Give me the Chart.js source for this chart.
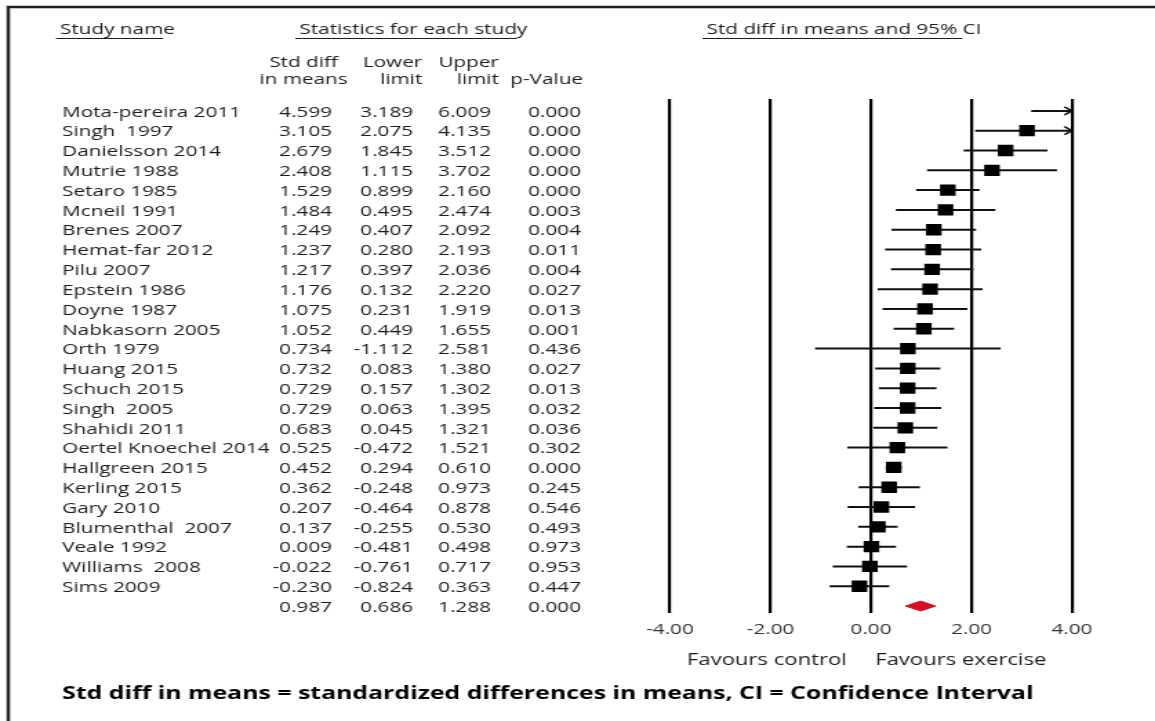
<!DOCTYPE html>
<html>
<head>
<meta charset="utf-8">
<script src="https://cdn.jsdelivr.net/npm/chart.js@4.4.1/dist/chart.umd.min.js"></script>
<style>
  html, body { margin: 0; padding: 0; background: #fff; overflow: hidden; }
  /* the reference is stretched sideways, so the whole chart is stretched the same way */
  #wrap { position: absolute; left: 0; top: 0; width: 837px; height: 721px;
          transform: scaleX(1.38); transform-origin: 0 0; }
</style>
</head>
<body>
<div id="wrap"><canvas id="forest"></canvas></div>
<script>
"use strict";

var studies = ['Mota-pereira 2011', 'Singh  1997', 'Danielsson 2014', 'Mutrie 1988', 'Setaro 1985',
  'Mcneil 1991', 'Brenes 2007', 'Hemat-far 2012', 'Pilu 2007', 'Epstein 1986', 'Doyne 1987',
  'Nabkasorn 2005', 'Orth 1979', 'Huang 2015', 'Schuch 2015', 'Singh  2005', 'Shahidi 2011',
  'Oertel Knoechel 2014', 'Hallgreen 2015', 'Kerling 2015', 'Gary 2010', 'Blumenthal  2007',
  'Veale 1992', 'Williams  2008', 'Sims 2009'];
var stdDiff = [4.599, 3.105, 2.679, 2.408, 1.529, 1.484, 1.249, 1.237, 1.217, 1.176, 1.075, 1.052,
  0.734, 0.732, 0.729, 0.729, 0.683, 0.525, 0.452, 0.362, 0.207, 0.137, 0.009, -0.022, -0.230];
var lowerLimit = [3.189, 2.075, 1.845, 1.115, 0.899, 0.495, 0.407, 0.280, 0.397, 0.132, 0.231, 0.449,
  -1.112, 0.083, 0.157, 0.063, 0.045, -0.472, 0.294, -0.248, -0.464, -0.255, -0.481, -0.761, -0.824];
var upperLimit = [6.009, 4.135, 3.512, 3.702, 2.160, 2.474, 2.092, 2.193, 2.036, 2.220, 1.919, 1.655,
  2.581, 1.380, 1.302, 1.395, 1.321, 1.521, 0.610, 0.973, 0.878, 0.530, 0.498, 0.717, 0.363];
var pValue = ['0.000', '0.000', '0.000', '0.000', '0.000', '0.003', '0.004', '0.011', '0.004', '0.027',
  '0.013', '0.001', '0.436', '0.027', '0.013', '0.032', '0.036', '0.302', '0.000', '0.245', '0.546',
  '0.493', '0.973', '0.953', '0.447'];
var summary = { est: 0.987, lower: 0.686, upper: 1.288, p: '0.000' };
var xTicks = [-4, -2, 0, 2, 4];

var TXT = '#1c1c1c';
var FONT = '15px "Open Sans"';
var SUM_ROW = studies.length;

// CI segments, broken by null points
var ciData = [];
studies.forEach(function(s, i) {
  ciData.push({ x: lowerLimit[i], y: i }, { x: upperLimit[i], y: i }, { x: upperLimit[i], y: null });
});
var squareData = stdDiff.map(function(v, i) { return { x: v, y: i }; });
var diamondData = [
  { x: summary.lower, y: SUM_ROW }, { x: summary.est, y: SUM_ROW - 0.25 },
  { x: summary.upper, y: SUM_ROW }, { x: summary.est, y: SUM_ROW + 0.25 },
  { x: summary.lower, y: SUM_ROW }
];

function text(ctx, str, x, y, align, font) {
  ctx.font = font || FONT;
  ctx.textAlign = align || 'left';
  ctx.fillText(str, x, y);
}
function underline(ctx, str, part, x, y) {
  text(ctx, str, x, y);
  var w = ctx.measureText(part).width;
  ctx.beginPath();
  ctx.moveTo(x - 3, y + 8.5);
  ctx.lineTo(x + w, y + 8.5);
  ctx.stroke();
}

var forestText = {
  id: 'forestText',
  beforeDraw: function(chart) {
    var ctx = chart.ctx;
    ctx.save();
    ctx.strokeStyle = '#222';
    ctx.lineWidth = 2.5;
    ctx.beginPath();
    ctx.moveTo(chart.width, 7);
    ctx.lineTo(6, 7);
    ctx.lineTo(6, chart.height);
    ctx.stroke();
    ctx.restore();
  },
  afterDraw: function(chart) {
    var ctx = chart.ctx, y = chart.scales.y, x = chart.scales.x;
    ctx.save();
    ctx.fillStyle = TXT;
    ctx.strokeStyle = TXT;
    ctx.lineWidth = 1.2;
    ctx.textBaseline = 'middle';

    underline(ctx, 'Study name', 'Study nam', 43.5, 30);
    underline(ctx, 'Statistics for each study', 'Statistics for each stud', 217, 30);
    underline(ctx, 'Std diff in means and 95% CI', 'Std diff in means and 95% ', 512, 30);

    text(ctx, 'Std diff', 220, 63, 'center');
    text(ctx, 'in means', 220, 80, 'center');
    text(ctx, 'Lower', 306, 63, 'right');
    text(ctx, 'limit', 306, 80, 'right');
    text(ctx, 'Upper', 361.5, 63, 'right');
    text(ctx, 'limit', 361.5, 80, 'right');
    text(ctx, 'p-Value', 422.5, 80, 'right');

    studies.forEach(function(s, i) {
      var py = y.getPixelForValue(i) + 1.5;
      text(ctx, s, 45, py);
      text(ctx, stdDiff[i].toFixed(3), 240.6, py, 'right');
      text(ctx, lowerLimit[i].toFixed(3), 299.3, py, 'right');
      text(ctx, upperLimit[i].toFixed(3), 355.8, py, 'right');
      text(ctx, pValue[i], 421, py, 'right');
    });
    var sy = y.getPixelForValue(SUM_ROW) + 1.5;
    text(ctx, summary.est.toFixed(3), 240.6, sy, 'right');
    text(ctx, summary.lower.toFixed(3), 299.3, sy, 'right');
    text(ctx, summary.upper.toFixed(3), 355.8, sy, 'right');
    text(ctx, summary.p, 421, sy, 'right');

    // arrows where the CI runs past the axis
    var xmax = x.max, px = x.getPixelForValue(xmax);
    ctx.strokeStyle = '#111';
    ctx.lineWidth = 1.6;
    studies.forEach(function(s, i) {
      if (upperLimit[i] <= xmax) return;
      var py = y.getPixelForValue(i);
      ctx.beginPath();
      ctx.moveTo(px - 5.5, py - 4);
      ctx.lineTo(px, py);
      ctx.lineTo(px - 5.5, py + 4);
      ctx.stroke();
    });

    var zero = x.getPixelForValue(0);
    text(ctx, 'Favours control', zero - 17.5, 660, 'right', '16px "Open Sans"');
    text(ctx, 'Favours exercise', zero + 3, 660, 'left', '16px "Open Sans"');

    ctx.fillStyle = '#000';
    text(ctx, 'Std diff in means = standardized differences in means, CI = Confidence Interval',
      45, 694, 'left', 'bold 18px "Open Sans"');
    ctx.restore();
  }
};

new Chart(document.getElementById('forest'), {
  type: 'scatter',
  data: {
    datasets: [
      {
        data: squareData,
        pointStyle: 'rect', pointRadius: 8, pointHoverRadius: 8,
        backgroundColor: '#000', borderWidth: 0, order: 0
      },
      {
        data: ciData,
        showLine: true, spanGaps: false, pointRadius: 0,
        borderColor: '#111', borderWidth: 2, order: 1
      },
      {
        data: diamondData,
        showLine: true, pointRadius: 0, fill: 'shape',
        borderColor: '#d4101f', backgroundColor: '#d4101f', borderWidth: 1, order: 2
      }
    ]
  },
  options: {
    responsive: true,
    maintainAspectRatio: false,
    animation: false,
    events: [],
    layout: { padding: { left: 485.5, right: 60.2, top: 99, bottom: 68 } },
    plugins: { legend: { display: false }, tooltip: { enabled: false } },
    scales: {
      x: {
        type: 'linear', min: -4, max: 4,
        afterBuildTicks: function(scale) { scale.ticks = xTicks.map(function(v) { return { value: v }; }); },
        afterFit: function(scale) { scale.height = 40; },
        border: { display: false },
        grid: { color: '#000', lineWidth: 2.2, drawTicks: false },
        ticks: {
          padding: 8, color: '#333', font: { family: 'Open Sans', size: 15 },
          callback: function(v) { return Number(v).toFixed(2); }
        }
      },
      y: {
        type: 'linear', display: false, reverse: true, min: -0.6, max: 25.35
      }
    }
  },
  plugins: [forestText]
});
</script>
</body>
</html>
